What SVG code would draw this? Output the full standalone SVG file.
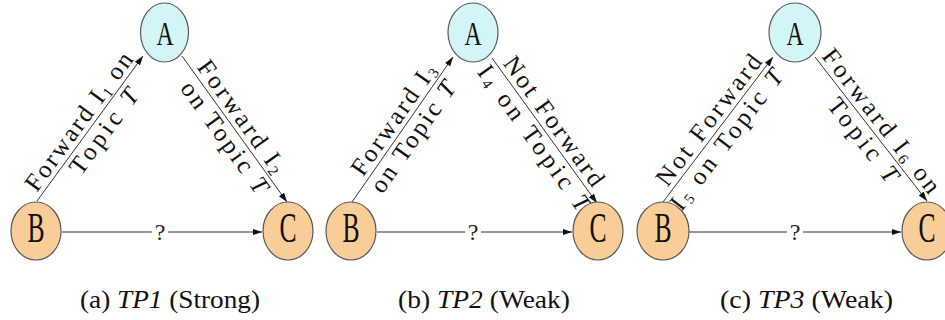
<svg xmlns="http://www.w3.org/2000/svg" width="945" height="320" viewBox="0 0 945 320">
<style>
text{font-family:'Liberation Serif','Times New Roman',Times,serif}
.na{fill:#d2f6f7;stroke:#5a5a5a;stroke-width:1.2}
.nb{fill:#f9cd97;stroke:#5a5a5a;stroke-width:1.2}
.nl{fill:#111;text-anchor:middle}
.e{stroke:#333;stroke-width:1;fill:none;marker-end:url(#arr)}
.lb{font-size:25px;fill:#111;text-anchor:middle}
.q{font-size:24px;fill:#222;text-anchor:middle}
.cap{font-size:25px;fill:#111}
</style>
<defs>
<marker id="arr" markerUnits="userSpaceOnUse" markerWidth="10" markerHeight="8" viewBox="0 0 10 8" refX="9.5" refY="4" orient="auto">
<path d="M0,0.8 L9.5,4 L0,7.2 z" fill="#111"/>
</marker>
</defs>
<rect width="945" height="320" fill="#fff"/>

<g id="connectors">
<!-- panel a -->
<line class="e" x1="37" y1="201" x2="143" y2="56"/>
<line class="e" x1="182" y1="56" x2="287" y2="202"/>
<line class="e" x1="62" y1="232" x2="262" y2="232"/>
<rect x="152" y="219" width="16" height="24" fill="#fff"/>
<text class="q" x="160" y="240" font-family="Liberation Serif">?</text>
<g transform="translate(90,128.5) rotate(-53.8)">
<text class="lb" x="-1" y="-5" textLength="165" lengthAdjust="spacing" font-family="Liberation Serif">Forward I<tspan font-size="15" dy="3">1</tspan><tspan dy="-3"> on</tspan></text>
<text class="lb" x="6" y="21" textLength="100" lengthAdjust="spacing" font-family="Liberation Serif">Topic <tspan font-style="italic">T</tspan></text>
</g>
<g transform="translate(234.5,129) rotate(54.3)">
<text class="lb" x="-6" y="-5" textLength="133" lengthAdjust="spacing" font-family="Liberation Serif">Forward I<tspan font-size="15" dy="3">2</tspan></text>
<text class="lb" x="1" y="21" textLength="132" lengthAdjust="spacing" font-family="Liberation Serif">on Topic <tspan font-style="italic">T</tspan></text>
</g>
<!-- panel b -->
<line class="e" x1="352" y1="202" x2="453" y2="57"/>
<line class="e" x1="492" y1="58" x2="597" y2="203"/>
<line class="e" x1="377" y1="232" x2="572" y2="232"/>
<rect x="465" y="219" width="16" height="24" fill="#fff"/>
<text class="q" x="473" y="240" font-family="Liberation Serif">?</text>
<g transform="translate(402.5,129.5) rotate(-55.1)">
<text class="lb" x="3" y="-5" textLength="130" lengthAdjust="spacing" font-family="Liberation Serif">Forward I<tspan font-size="15" dy="3">3</tspan></text>
<text class="lb" x="0" y="21" textLength="130" lengthAdjust="spacing" font-family="Liberation Serif">on Topic <tspan font-style="italic">T</tspan></text>
</g>
<g transform="translate(544.5,130.5) rotate(54.1)">
<text class="lb" x="-2" y="-5" textLength="154" lengthAdjust="spacing" font-family="Liberation Serif">Not Forward</text>
<text class="lb" x="0" y="21" textLength="174" lengthAdjust="spacing" font-family="Liberation Serif">I<tspan font-size="15" dy="3">4</tspan><tspan dy="-3"> on Topic </tspan><tspan font-style="italic">T</tspan></text>
</g>
<!-- panel c -->
<line class="e" x1="663" y1="202" x2="773" y2="57"/>
<line class="e" x1="815" y1="57" x2="927" y2="201"/>
<line class="e" x1="689" y1="232" x2="901" y2="232"/>
<rect x="787" y="219" width="16" height="24" fill="#fff"/>
<text class="q" x="795" y="240" font-family="Liberation Serif">?</text>
<g transform="translate(718,129.5) rotate(-52.8)">
<text class="lb" x="2" y="-5" textLength="158" lengthAdjust="spacing" font-family="Liberation Serif">Not Forward</text>
<text class="lb" x="-3" y="21" textLength="170" lengthAdjust="spacing" font-family="Liberation Serif">I<tspan font-size="15" dy="3">5</tspan><tspan dy="-3"> on Topic </tspan><tspan font-style="italic">T</tspan></text>
</g>
<g transform="translate(871,129) rotate(52.1)">
<text class="lb" x="0" y="-5" textLength="176" lengthAdjust="spacing" font-family="Liberation Serif">Forward I<tspan font-size="15" dy="3">6</tspan><tspan dy="-3"> on</tspan></text>
<text class="lb" x="4" y="21" textLength="100" lengthAdjust="spacing" font-family="Liberation Serif">Topic <tspan font-style="italic">T</tspan></text>
</g>
</g>

<g id="a-A"><ellipse class="na" cx="164.5" cy="32.5" rx="24" ry="29.5"/><text class="nl" font-family="Liberation Serif" font-size="34" transform="translate(165,45) scale(0.7,1)">A</text></g>
<g id="a-B"><ellipse class="nb" cx="36" cy="231" rx="25" ry="29"/><text class="nl" font-family="Liberation Serif" font-size="42" transform="translate(36,242) scale(0.61,1)">B</text></g>
<g id="a-C"><ellipse class="nb" cx="288" cy="231" rx="25" ry="29"/><text class="nl" font-family="Liberation Serif" font-size="42" transform="translate(288,242) scale(0.61,1)">C</text></g>

<g id="b-A"><ellipse class="na" cx="473" cy="32.5" rx="25" ry="29.5"/><text class="nl" font-family="Liberation Serif" font-size="34" transform="translate(473,45) scale(0.7,1)">A</text></g>
<g id="b-B"><ellipse class="nb" cx="351" cy="231" rx="25" ry="29"/><text class="nl" font-family="Liberation Serif" font-size="42" transform="translate(351,242) scale(0.61,1)">B</text></g>
<g id="b-C"><ellipse class="nb" cx="598" cy="231" rx="25" ry="29"/><text class="nl" font-family="Liberation Serif" font-size="42" transform="translate(598,242) scale(0.61,1)">C</text></g>

<g id="c-A"><ellipse class="na" cx="795" cy="32.5" rx="26" ry="29.5"/><text class="nl" font-family="Liberation Serif" font-size="34" transform="translate(795,45) scale(0.7,1)">A</text></g>
<g id="c-B"><ellipse class="nb" cx="663" cy="231" rx="26" ry="29"/><text class="nl" font-family="Liberation Serif" font-size="42" transform="translate(663,242) scale(0.61,1)">B</text></g>
<g id="c-C"><ellipse class="nb" cx="927" cy="231" rx="25" ry="29"/><text class="nl" font-family="Liberation Serif" font-size="42" transform="translate(927,242) scale(0.61,1)">C</text></g>

<g id="captions">
<text class="cap" x="80" y="308" font-family="Liberation Serif" textLength="180" lengthAdjust="spacingAndGlyphs">(a) <tspan font-style="italic">TP1</tspan> (Strong)</text>
<text class="cap" x="398" y="308" font-family="Liberation Serif" textLength="172" lengthAdjust="spacingAndGlyphs">(b) <tspan font-style="italic">TP2</tspan> (Weak)</text>
<text class="cap" x="720" y="308" font-family="Liberation Serif" textLength="173" lengthAdjust="spacingAndGlyphs">(c) <tspan font-style="italic">TP3</tspan> (Weak)</text>
</g>
</svg>
